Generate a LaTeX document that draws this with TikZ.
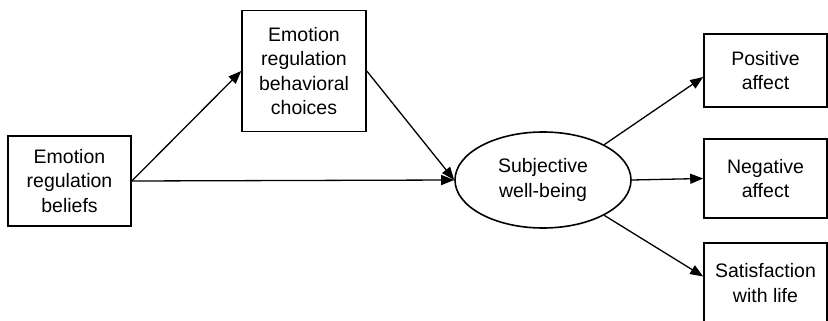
\documentclass[tikz,border=0pt]{standalone}
\usepackage{fontspec}
\setmainfont{Liberation Sans}
\usetikzlibrary{arrows.meta,positioning,shapes.geometric}

\begin{document}
\begin{tikzpicture}[
    x=1pt, y=-1pt,
    font=\fontsize{19.5}{24.5}\selectfont,
    var/.style={rectangle, draw=black, line width=1.6pt, align=center, inner sep=0pt, minimum width=123pt},
    latent/.style={ellipse, draw=black, line width=1.6pt, align=center, inner sep=0pt, minimum width=176pt, minimum height=96pt},
    arrow/.style={-{Triangle[length=13pt,width=10pt]}, line width=1.3pt, black}
]
    \useasboundingbox (0,0) rectangle (828,321);

    \node[var, minimum height=90pt] (beliefs) at (69.5,181) {Emotion\\regulation\\beliefs};
    \node[var, minimum width=124pt, minimum height=121pt] (choices) at (304,71) {Emotion\\regulation\\behavioral\\choices};
    \node[latent] (swb) at (543,180) {Subjective\\well-being};

    \node[var, minimum height=73pt] (pos) at (765.5,70.5) {Positive\\affect};
    \node[var, minimum height=79pt] (neg) at (765.5,178.5) {Negative\\affect};
    \node[var, minimum height=80pt] (sat) at (765.5,283) {Satisfaction\\with life};

    \draw[arrow] (beliefs.east) -- (choices.west);
    \draw[arrow] (beliefs.east) -- (swb.west);
    \draw[arrow] (choices.east) -- (swb.west);

    \draw[arrow] (swb.30) -- (pos.186);
    \draw[arrow] (swb.east) -- (neg.west);
    \draw[arrow] (swb.-30) -- (sat.174);
\end{tikzpicture}
\end{document}
